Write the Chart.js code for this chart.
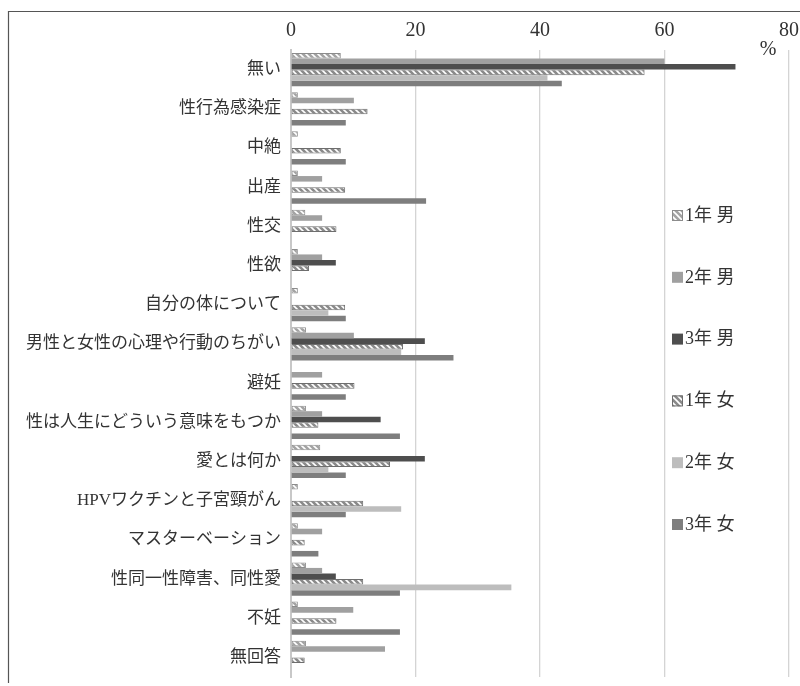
<!DOCTYPE html>
<html>
<head>
<meta charset="utf-8">
<script src="https://cdn.jsdelivr.net/npm/chart.js@4/dist/chart.umd.min.js"></script>
<style>
  html, body { margin: 0; padding: 0; background: #fff; }
  #wrap { width: 800px; height: 686px; position: relative; }
</style>
</head>
<body>
<div id="wrap"><canvas id="topics"></canvas></div>
<script>
/* 性に関して知りたいこと (学年・性別, %) */

var categories = ['無い', '性行為感染症', '中絶', '出産', '性交', '性欲', '自分の体について',
  '男性と女性の心理や行動のちがい', '避妊', '性は人生にどういう意味をもつか', '愛とは何か',
  'HPVワクチンと子宮頸がん', 'マスターベーション', '性同一性障害、同性愛', '不妊', '無回答'];
var seriesNames = ['1年 男', '2年 男', '3年 男', '1年 女', '2年 女', '3年 女'];

var m1 = [8.0, 1.1, 1.1, 1.1, 2.3, 1.1, 1.1, 2.4, 0, 2.4, 4.7, 1.1, 1.1, 2.4, 1.1, 2.4];
var m2 = [60.0, 10.1, 0, 5.0, 5.0, 5.0, 0, 10.1, 5.0, 5.0, 0, 0, 5.0, 5.0, 10.0, 15.1];
var m3 = [71.4, 0, 0, 0, 0, 7.2, 0, 21.5, 0, 14.4, 21.5, 0, 0, 7.2, 0, 0];
var f1 = [56.8, 12.3, 8.0, 8.7, 7.3, 2.9, 8.7, 18.0, 10.2, 4.4, 15.9, 11.6, 2.2, 11.6, 7.3, 2.2];
var f2 = [41.2, 0, 0, 0, 0, 0, 6.0, 17.7, 0, 0, 6.0, 17.7, 0, 35.4, 0, 0];
var f3 = [43.5, 8.8, 8.8, 21.7, 0, 0, 8.8, 26.1, 8.8, 17.5, 8.8, 8.8, 4.4, 17.5, 17.5, 0];
var xTicks = [0, 20, 40, 60, 80];

var serif = '"Liberation Serif", "Noto Sans CJK JP", serif';

// 斜線パターン
function hatch(base) {
  var c = document.createElement('canvas');
  c.width = 6; c.height = 6;
  var g = c.getContext('2d');
  g.fillStyle = base;
  g.fillRect(0, 0, 6, 6);
  g.strokeStyle = '#ffffff';
  g.lineWidth = 1.6;
  g.beginPath();
  g.moveTo(-1, -1); g.lineTo(7, 7);
  g.moveTo(-4, 2); g.lineTo(2, 8);
  g.moveTo(2, -4); g.lineTo(8, 2);
  g.stroke();
  return g.createPattern(c, 'repeat');
}

var fills = [hatch('#a3a3a3'), '#a0a0a0', '#4e4e4e', hatch('#8a8a8a'), '#bdbdbd', '#7e7e7e'];
var borders = ['#8c8c8c', '#a0a0a0', '#4e4e4e', '#6e6e6e', '#bdbdbd', '#7e7e7e'];
var allData = [m1, m2, m3, f1, f2, f3];

var datasets = seriesNames.map(function (name, i) {
  return {
    label: name,
    data: allData[i],
    backgroundColor: fills[i],
    borderColor: borders[i],
    borderWidth: (i === 0 || i === 3) ? 1 : 0,
    borderSkipped: false
  };
});

var framePlugin = {
  id: 'frame',
  beforeDraw: function (chart) {
    var ctx = chart.ctx;
    ctx.save();
    ctx.fillStyle = '#fff';
    ctx.fillRect(0, 0, chart.width, chart.height);
    ctx.strokeStyle = '#555';
    ctx.lineWidth = 1.2;
    ctx.beginPath();
    ctx.moveTo(8.5, 683);
    ctx.lineTo(8.5, 11.5);
    ctx.lineTo(800, 11.5);
    ctx.stroke();
    ctx.restore();
  },
  afterDraw: function (chart) {
    var ctx = chart.ctx;
    ctx.save();
    // 単位
    ctx.fillStyle = '#333';
    ctx.font = '20px ' + serif;
    ctx.textAlign = 'center';
    ctx.textBaseline = 'middle';
    ctx.fillText('%', 768, 50);
    // 凡例
    ctx.font = '18px ' + serif;
    ctx.textAlign = 'left';
    chart.data.datasets.forEach(function (ds, i) {
      var y = 215 + i * 61.8;
      ctx.fillStyle = ds.backgroundColor;
      ctx.fillRect(672, y - 5, 11, 11);
      if (ds.borderWidth) {
        ctx.strokeStyle = ds.borderColor;
        ctx.lineWidth = 1;
        ctx.strokeRect(672.5, y - 4.5, 10, 10);
      }
      ctx.fillStyle = '#333';
      ctx.fillText(ds.label, 685, y + 1);
    });
    ctx.restore();
  }
};

var ctx = document.getElementById('topics').getContext('2d');
var chart = new Chart(ctx, {
  type: 'bar',
  data: { labels: categories, datasets: datasets },
  options: {
    indexAxis: 'y',
    responsive: true,
    maintainAspectRatio: false,
    animation: false,
    layout: { padding: { left: 0, right: 11, top: 0, bottom: 9 } },
    datasets: { bar: { categoryPercentage: 0.85, barPercentage: 1.0 } },
    scales: {
      x: {
        position: 'top',
        min: 0,
        max: 80,
        afterBuildTicks: function (s) { s.ticks = xTicks.map(function (v) { return { value: v }; }); },
        afterFit: function (s) { s.height = 50; s.paddingLeft = 0; s.paddingRight = 0; },
        grid: { color: '#d4d4d4', lineWidth: 1.3, drawTicks: false },
        border: { display: false },
        ticks: { color: '#333', padding: 7, font: { family: serif, size: 20 } }
      },
      y: {
        afterFit: function (s) { s.width = 291; s.paddingTop = 0; s.paddingBottom = 0; },
        grid: { display: false, drawTicks: false },
        border: { color: '#c8c8c8', width: 2 },
        ticks: { color: '#333', padding: 10, font: { family: serif, size: 17 } }
      }
    },
    plugins: {
      legend: { display: false },
      tooltip: { enabled: false }
    }
  },
  plugins: [framePlugin]
});
</script>
</body>
</html>
